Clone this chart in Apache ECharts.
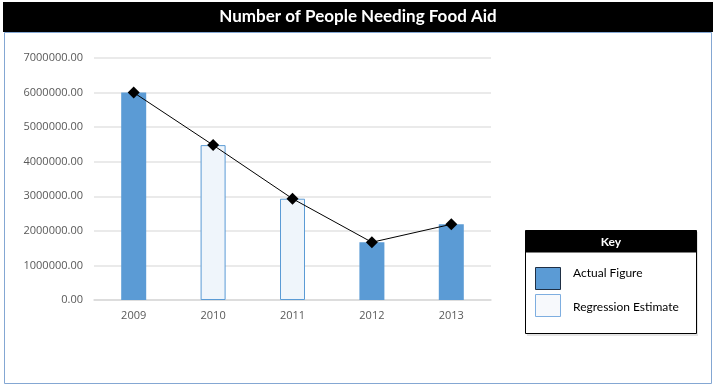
<!DOCTYPE html>
<html>
<head>
<meta charset="utf-8">
<script src="https://cdn.jsdelivr.net/npm/echarts@6/dist/echarts.min.js"></script>
<style>
html,body{margin:0;padding:0;background:#fff;}
#chart{width:718px;height:391px;}
</style>
</head>
<body>
<div id="chart"></div>
<script>
const chartTitle = 'Number of People Needing Food Aid';
const years = ['2009', '2010', '2011', '2012', '2013'];
const actualFigures = [6000000, null, null, 1670000, 2190000];
const regressionEstimates = [null, 4480000, 2930000, null, null];
const trendValues = [6000000, 4480000, 2930000, 1670000, 2190000];
const keyTitle = 'Key';
const keyLabels = ['Actual Figure', 'Regression Estimate'];

const chart = echarts.init(document.getElementById('chart'), null, {renderer: 'canvas'});
const labelFont = '"Open Sans", "Liberation Sans", sans-serif';
const titleFont = 'Lato, "Liberation Sans", sans-serif';

chart.setOption({
  animation: false,
  backgroundColor: '#ffffff',
  grid: {left: 94, right: 227, top: 58, bottom: 91, containLabel: false},
  xAxis: {
    type: 'category',
    data: years,
    boundaryGap: true,
    axisLine: {show: true, lineStyle: {color: '#d9d9d9', width: 1.5}},
    axisTick: {show: false},
    axisLabel: {color: '#595959', fontSize: 11, fontFamily: labelFont, margin: 10}
  },
  yAxis: {
    type: 'value',
    min: 0, max: 7000000, interval: 1000000,
    axisLine: {show: false},
    axisTick: {show: false},
    splitLine: {lineStyle: {color: '#e3e3e3', width: 1.5}},
    axisLabel: {color: '#595959', fontSize: 11, fontFamily: labelFont, margin: 11,
      formatter: v => v.toFixed(2)}
  },
  series: [
    {
      name: keyLabels[0], type: 'bar', data: actualFigures, barWidth: 25, barGap: '-100%',
      itemStyle: {color: '#5b9bd5'}
    },
    {
      name: keyLabels[1], type: 'bar', data: regressionEstimates, barWidth: 25, barGap: '-100%',
      itemStyle: {color: '#eff5fb', borderColor: '#5b9bd5', borderWidth: 1}
    },
    {
      name: 'Trend', type: 'line', data: trendValues, symbol: 'diamond', symbolSize: [12, 12],
      itemStyle: {color: '#000000'}, lineStyle: {color: '#000000', width: 1}, z: 5
    }
  ],
  graphic: [
    {type: 'rect', shape: {x: 4.5, y: 32.5, width: 707, height: 351},
      style: {fill: null, stroke: '#84a7d3', lineWidth: 1}, z: -1},
    {type: 'rect', shape: {x: 3, y: 2, width: 710, height: 30}, style: {fill: '#000000'}},
    {type: 'text', x: 358, y: 17, style: {text: chartTitle, fill: '#ffffff',
      font: 'bold 17px ' + titleFont, align: 'center', verticalAlign: 'middle'}},
    {type: 'rect', shape: {x: 527, y: 232, width: 171, height: 104},
      style: {fill: '#e4e4e4'}, z: 10},
    {type: 'rect', shape: {x: 525.5, y: 230.5, width: 171, height: 103},
      style: {fill: '#ffffff', stroke: '#000000', lineWidth: 1}, z: 11},
    {type: 'rect', shape: {x: 525.5, y: 230.5, width: 171, height: 22},
      style: {fill: '#000000'}, z: 12},
    {type: 'text', x: 611, y: 242, style: {text: keyTitle, fill: '#ffffff',
      font: 'bold 12px ' + titleFont, align: 'center', verticalAlign: 'middle'}, z: 13},
    {type: 'rect', shape: {x: 535.5, y: 267.5, width: 25, height: 22},
      style: {fill: '#5b9bd5', stroke: '#1f2f44', lineWidth: 1}, z: 12},
    {type: 'rect', shape: {x: 535.5, y: 294.5, width: 25, height: 22},
      style: {fill: '#f7f9fc', stroke: '#7eaee0', lineWidth: 1}, z: 12},
    {type: 'text', x: 573, y: 273, style: {text: keyLabels[0], fill: '#000000',
      font: '12px ' + titleFont, align: 'left', verticalAlign: 'middle'}, z: 13},
    {type: 'text', x: 573, y: 307, style: {text: keyLabels[1], fill: '#000000',
      font: '12px ' + titleFont, align: 'left', verticalAlign: 'middle'}, z: 13}
  ]
});
</script>
</body>
</html>
